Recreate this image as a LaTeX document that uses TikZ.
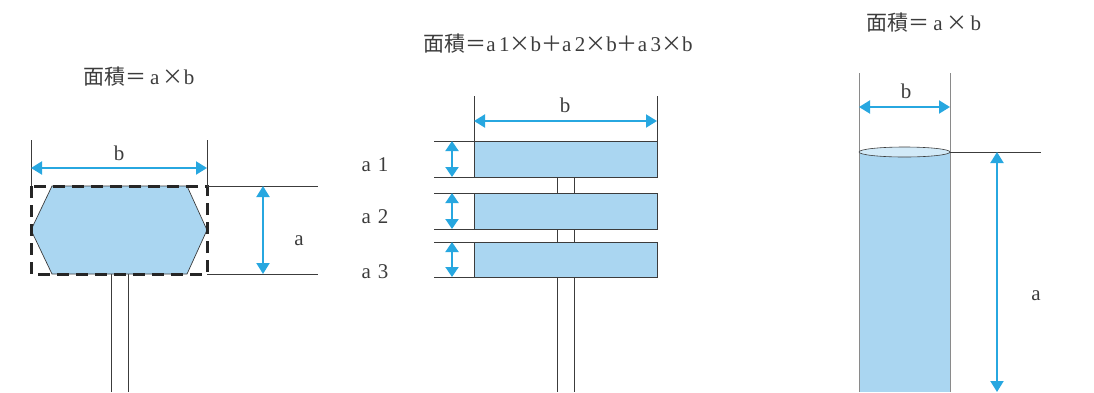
\documentclass[tikz,border=0pt]{standalone}
\usepackage{fontspec}
\setmainfont{Liberation Serif}
\newfontfamily\cjk{Noto Sans CJK JP}
\usetikzlibrary{arrows.meta}
\definecolor{fillblue}{HTML}{AAD6F1}
\definecolor{arrowblue}{HTML}{27A7E0}
\definecolor{topblue}{HTML}{D2EAF8}
\definecolor{linegray}{HTML}{3C3C3C}
\definecolor{lightgray}{HTML}{8A8A8A}
\begin{document}
\begin{tikzpicture}[x=1pt,y=-1pt,
  font=\fontsize{21}{23}\selectfont,
  ext/.style={draw=linegray, line width=0.7pt},
  pole/.style={draw=linegray, line width=0.8pt},
  dim/.style={draw=arrowblue, line width=2pt,
    {Triangle[length=11pt,width=13pt]}-{Triangle[length=11pt,width=13pt]}},
  sdim/.style={draw=arrowblue, line width=2pt,
    {Triangle[length=10pt,width=13pt]}-{Triangle[length=10pt,width=13pt]}},
  lbl/.style={inner sep=0pt, text=linegray},
  board/.style={fill=fillblue, draw=linegray, line width=0.7pt},
  frame/.style={draw=black!85, line width=3pt, dash pattern=on 12pt off 7pt}]
\useasboundingbox (0,0) rectangle (1094,392);

% ---------- titles
\node[lbl] (t1) at (139,77) {{\cjk 面積＝}\,a\,{\cjk ×}b};
\node[lbl] (t2) at (558,44) {{\cjk 面積＝}a\,1{\cjk ×}b{\cjk ＋}a\,2{\cjk ×}b{\cjk ＋}a\,3{\cjk ×}b};
\node[lbl] (t3) at (924,23) {{\cjk 面積＝}\,a\,{\cjk ×}\,b};

% ---------- left figure
\coordinate (L1) at (31,186);
\coordinate (L2) at (207,186);
\coordinate (L3) at (207,274);
\coordinate (L4) at (31,274);
\coordinate (Lp1) at (111,274); \coordinate (Lp1b) at (111,392);
\coordinate (Lp2) at (128,274); \coordinate (Lp2b) at (128,392);
\draw[pole] (Lp1) -- (Lp1b);
\draw[pole] (Lp2) -- (Lp2b);
\draw[board] (52,186) -- (187,186) -- (207,230) -- (187,274) -- (52,274) -- (31,230) -- cycle;
\draw[frame] (L1) rectangle (L3);
\coordinate (Lb1) at (31,140); \coordinate (Lb2) at (207,140);
\draw[ext] (Lb1) -- (L1);
\draw[ext] (Lb2) -- (L2);
\coordinate (La1) at (318,186); \coordinate (La2) at (318,274);
\draw[ext] (L2) -- (La1);
\draw[ext] (L3) -- (La2);
\coordinate (Ldb1) at (31,168); \coordinate (Ldb2) at (207,168);
\draw[dim] (Ldb1) -- (Ldb2);
\node[lbl] (Lb) at (119,153) {b};
\coordinate (Lda1) at (263,186); \coordinate (Lda2) at (263,274);
\draw[dim] (Lda1) -- (Lda2);
\node[lbl] (La) at (299,241) {a};

% ---------- middle figure
\foreach \i/\ya/\yb in {1/141/177, 2/193/229, 3/242/277}{
  \coordinate (M\i tl) at (474,\ya);
  \coordinate (M\i br) at (657,\yb);
  \coordinate (M\i el) at (434,\ya);
  \coordinate (M\i fl) at (434,\yb);
  \coordinate (M\i bl) at (474,\yb);
  \coordinate (M\i da) at (452,\ya);
  \coordinate (M\i db) at (452,\yb);
  \draw[board] (M\i tl) rectangle (M\i br);
  \draw[ext] (M\i el) -- (M\i tl);
  \draw[ext] (M\i fl) -- (M\i bl);
  \draw[sdim] (M\i da) -- (M\i db);
}
\foreach \ya/\yb/\n in {177/193/a, 229/242/b, 277/392/c}{
  \coordinate (Mp1\n) at (557,\ya); \coordinate (Mq1\n) at (557,\yb);
  \coordinate (Mp2\n) at (574,\ya); \coordinate (Mq2\n) at (574,\yb);
  \draw[pole] (Mp1\n) -- (Mq1\n);
  \draw[pole] (Mp2\n) -- (Mq2\n);
}
\node[lbl] (Ma1) at (375,165) {a\,\,1};
\node[lbl] (Ma2) at (375,217) {a\,\,2};
\node[lbl] (Ma3) at (375,272) {a\,\,3};
\coordinate (Mb1) at (474,96); \coordinate (Mb2) at (657,96);
\coordinate (Mb3) at (657,141);
\draw[ext] (Mb1) -- (M1tl);
\draw[ext] (Mb2) -- (Mb3);
\coordinate (Mdb1) at (474,121); \coordinate (Mdb2) at (657,121);
\draw[dim] (Mdb1) -- (Mdb2);
\node[lbl] (Mb) at (565,105) {b};

% ---------- right figure
\fill[fillblue] (859,152) rectangle (950,392);
\coordinate (R1) at (859,73); \coordinate (R1b) at (859,392);
\coordinate (R2) at (950,73); \coordinate (R2b) at (950,392);
\draw[draw=lightgray, line width=0.9pt] (R1) -- (R1b);
\draw[draw=lightgray, line width=0.9pt] (R2) -- (R2b);
\draw[fill=topblue, draw=linegray, line width=0.6pt] (904.5,152) ellipse [x radius=45.5pt, y radius=5pt];
\coordinate (Rt) at (950,152); \coordinate (Rte) at (1041,152);
\draw[ext] (Rt) -- (Rte);
\coordinate (Rdb1) at (859,107); \coordinate (Rdb2) at (950,107);
\draw[dim] (Rdb1) -- (Rdb2);
\node[lbl] (Rb) at (906,91) {b};
\coordinate (Rda1) at (997,152); \coordinate (Rda2) at (997,392);
\draw[dim] (Rda1) -- (Rda2);
\node[lbl] (Ra) at (1036,296) {a};
\end{tikzpicture}
\end{document}
